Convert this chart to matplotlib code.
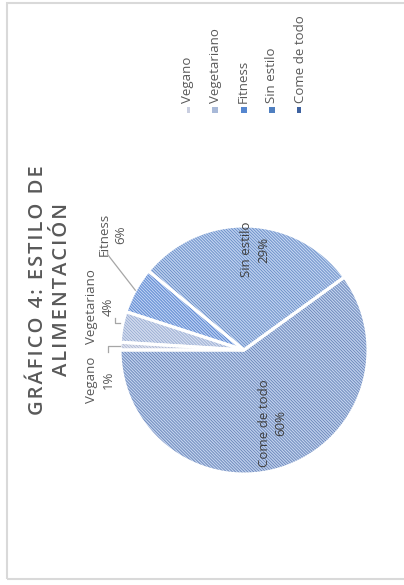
import matplotlib.pyplot as plt
from matplotlib.patches import Rectangle
import numpy as np

categorias = ['Vegano', 'Vegetariano', 'Fitness', 'Sin estilo', 'Come de todo']
porcentajes = [1, 4, 6, 29, 60]
titulo = ['GRÁFICO 4: ESTILO DE', 'ALIMENTACIÓN']

colores_fondo = ['#e2e6f0', '#d6def0', '#bcd0f2', '#c2d4f0', '#c2d3ee']
colores_trama = ['#aeb7d3', '#9aaed3', '#5a86d0', '#6a8ec8', '#6b86ba']
colores_leyenda = ['#c9cee0', '#a8b9d8', '#5586cf', '#4f7fc0', '#3e62a0']

# posiciones de las etiquetas (coordenadas del eje del pastel) y si van fuera
pos_etiquetas = [(-1.16, -0.24), (-1.16, 0.35), (-1.06, 0.93), (0.09, 0.81), (0.23, -0.59)]
fuera = [True, True, True, False, False]


def main():
    plt.rcParams['font.family'] = ['Open Sans', 'DejaVu Sans']
    plt.rcParams['hatch.linewidth'] = 0.65
    fig = plt.figure(figsize=(4.04, 5.85), dpi=100)
    fig.patch.set_facecolor('white')

    # marco del gráfico
    fig.add_artist(Rectangle((7 / 404, 1 - 579 / 585), 1.2, 576 / 585, transform=fig.transFigure,
                             facecolor='none', edgecolor='#d9d9d9', linewidth=1.5))

    # pastel: centro en (244, 350) px, radio 124 px
    lim = 200 / 124
    ax = fig.add_axes([44 / 404, (585 - 350 - 200) / 585, 400 / 404, 400 / 585])
    wedges, _ = ax.pie(porcentajes, colors=colores_fondo, startangle=180, counterclock=False,
                       wedgeprops=dict(linewidth=0))
    for w, c in zip(wedges, colores_trama):
        w.set_edgecolor(c)
        w.set_linewidth(0)
        w.set_hatch('\\' * 11)
    ax.pie(porcentajes, colors=['none'] * 5, startangle=180, counterclock=False,
           wedgeprops=dict(edgecolor='white', linewidth=2.2))
    ax.set_xlim(-lim, lim)
    ax.set_ylim(-lim, lim)
    ax.axis('off')

    # etiquetas de datos
    for w, cat, p, (tx, ty), out in zip(wedges, categorias, porcentajes, pos_etiquetas, fuera):
        color = '#595959' if out else '#404040'
        ax.text(tx, ty, f'{cat}\n{p}%', rotation=90, ha='center', va='center',
                fontsize=9.5, color=color, linespacing=1.35)
        if out:
            ang = np.deg2rad((w.theta1 + w.theta2) / 2)
            x0, y0 = np.cos(ang), np.sin(ang)
            if cat == 'Fitness':
                xs, ys = [x0, -1.10, -1.10], [y0, 0.77, 0.80]
            elif cat == 'Vegetariano':
                xs, ys = [x0 - 0.02, -1.04, -1.04], [0.22, 0.22, 0.26]
            else:
                xs, ys = [x0, -1.10, -1.10], [0.03, 0.03, -0.02]
            ax.plot(xs, ys, color='#a6a6a6', linewidth=0.9)

    # título con espaciado entre letras
    espaciado = '\n'.join('\u200a'.join(linea) for linea in titulo)
    fig.text(50 / 404, 1 - 290 / 585, espaciado, rotation=90, ha='center', va='center',
             fontsize=14.5, fontweight='semibold', color='#595959', linespacing=1.22,
             multialignment='center')

    # leyenda
    axl = fig.add_axes([187 / 404, 0.0, (300 - 187) / 404, 1.0])
    axl.set_xlim(0, 4)
    axl.set_ylim(0, 585)
    axl.axis('off')
    for i, (cat, c) in enumerate(zip(categorias, colores_leyenda)):
        axl.scatter(i, 585 - 110, marker='s', s=18, color=c, linewidths=0)
        axl.text(i, 585 - 103, cat, rotation=90, ha='center', va='bottom',
                 fontsize=9.5, color='#595959')

    fig.savefig('out.png', facecolor=fig.get_facecolor())


if __name__ == '__main__':
    main()
